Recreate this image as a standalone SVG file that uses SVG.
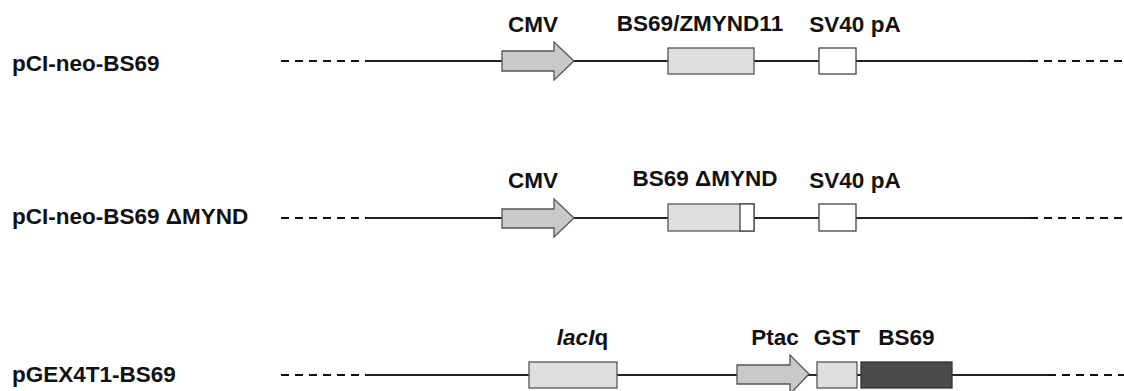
<svg xmlns="http://www.w3.org/2000/svg" width="1124" height="391" viewBox="0 0 1124 391">
<style>
text{font-family:"Liberation Sans",Arial,sans-serif;font-weight:bold;font-size:22.5px;fill:#111}
.c{text-anchor:middle}
.dash{stroke:#111;stroke-width:1.8;stroke-dasharray:8,6;fill:none}
.solid{stroke:#222;stroke-width:2.2;fill:none}
.arrow{fill:#c9c9c9;stroke:#555;stroke-width:1.3}
.light{fill:#dedede;stroke:#555;stroke-width:1.3}
.white{fill:#fff;stroke:#444;stroke-width:1.3}
.dark{fill:#4a4a4a;stroke:#333;stroke-width:1.3}
</style>
<rect width="1124" height="391" fill="#fff"/>
<g id="connectors">
<path class="dash" d="M281 61H366M1030 61H1124"/>
<path class="solid" d="M366 61H1030"/>
<path class="dash" d="M281 218H366M1030 218H1124"/>
<path class="solid" d="M366 218H1030"/>
<path class="dash" d="M281 375H366M1048 375H1124"/>
<path class="solid" d="M366 375H1048"/>
</g>
<g id="row1">
<text x="12" y="71">pCI-neo-BS69</text>
<g id="cmv1"><path class="arrow" d="M502 51H554V42L574 61L554 80V71H502Z"/><text class="c" x="533" y="32">CMV</text></g>
<g id="bs69"><rect class="light" x="668" y="48" width="86" height="26"/><text class="c" x="700" y="31">BS69/ZMYND11</text></g>
<g id="sv40a"><rect class="white" x="819" y="48" width="37" height="26"/><text class="c" x="855" y="32">SV40 pA</text></g>
</g>
<g id="row2">
<text x="12" y="224">pCI-neo-BS69 ΔMYND</text>
<g id="cmv2"><path class="arrow" d="M502 209H554V199L574 218L554 237V228H502Z"/><text class="c" x="533" y="188">CMV</text></g>
<g id="bs69d"><rect class="light" x="668" y="204" width="86" height="27"/><rect class="white" x="740" y="204" width="14" height="27"/><text class="c" x="705" y="186">BS69 ΔMYND</text></g>
<g id="sv40b"><rect class="white" x="819" y="204" width="37" height="27"/><text class="c" x="855" y="188">SV40 pA</text></g>
</g>
<g id="row3">
<text x="12" y="382">pGEX4T1-BS69</text>
<g id="laciq"><rect class="light" x="529" y="362" width="88" height="26"/><text class="c" x="582.5" y="345"><tspan font-style="italic">lacI</tspan>q</text></g>
<g id="ptac"><path class="arrow" d="M737 365H790V355L809 374L790 394V384H737Z"/><text class="c" x="775" y="345">Ptac</text></g>
<g id="gst"><rect class="light" x="817" y="362" width="40" height="26"/><text class="c" x="837" y="345">GST</text></g>
<g id="bs69g"><rect class="dark" x="861" y="362" width="91" height="26"/><text class="c" x="906.5" y="345">BS69</text></g>
</g>
</svg>
